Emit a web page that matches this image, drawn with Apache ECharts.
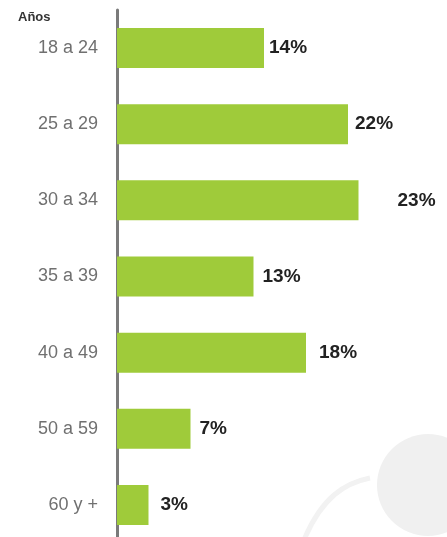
<!DOCTYPE html>
<html>
<head>
<meta charset="utf-8">
<script src="https://cdn.jsdelivr.net/npm/echarts@6/dist/echarts.min.js"></script>
<style>
  html, body { margin: 0; padding: 0; background: #fff; }
  #chart { width: 447px; height: 537px; }
</style>
</head>
<body>
<div id="chart"></div>
<script>
// Age groups and share of respondents (%)
const ageGroups = ['18 a 24', '25 a 29', '30 a 34', '35 a 39', '40 a 49', '50 a 59', '60 y +'];
const shares = [14, 22, 23, 13, 18, 7, 3];
// Extra gap between each bar end and its value label (px)
const labelGaps = [5, 7, 39, 9, 13, 9, 12];

const chart = echarts.init(document.getElementById('chart'), null, { renderer: 'canvas' });

const font = '"Liberation Sans", Arial, sans-serif';

chart.setOption({
  animation: false,
  backgroundColor: '#ffffff',
  graphic: [
    // Decorative soft grey shapes in the lower right corner
    {
      type: 'circle', z: 0, silent: true,
      shape: { cx: 428, cy: 485, r: 51 },
      style: { fill: '#f0f0f0' }
    },
    {
      type: 'bezierCurve', z: 0, silent: true,
      shape: { x1: 304, y1: 540, cpx1: 322, cpy1: 497, cpx2: 345, cpy2: 483, x2: 370, y2: 478 },
      style: { stroke: '#f2f2f2', lineWidth: 5, fill: null }
    },
    {
      type: 'text', z: 10,
      left: 18, top: 11,
      style: { text: 'Años', font: 'bold 13px ' + font, fill: '#333' }
    }
  ],
  grid: {
    left: 117, top: 10, width: 252, height: 533,
    containLabel: false, outerBoundsMode: 'none'
  },
  xAxis: {
    type: 'value', min: 0, max: 24,
    show: false
  },
  yAxis: {
    type: 'category',
    inverse: true,
    data: ageGroups,
    axisLine: { show: true, lineStyle: { color: '#7a7a7a', width: 3 } },
    axisTick: { show: false },
    splitLine: { show: false },
    axisLabel: {
      color: '#707070', fontSize: 18, fontFamily: font,
      margin: 19, align: 'right', padding: [4, 0, 0, 0]
    }
  },
  series: [{
    type: 'bar',
    barWidth: 40,
    data: shares.map((v, i) => ({
      value: v,
      label: { distance: labelGaps[i] }
    })),
    itemStyle: { color: '#9fcb3a' },
    label: {
      show: true,
      position: 'right',
      formatter: '{c}%',
      color: '#222',
      fontWeight: 'bold',
      fontSize: 19,
      fontFamily: font,
      padding: [3, 0, 0, 0]
    }
  }]
});
</script>
</body>
</html>
